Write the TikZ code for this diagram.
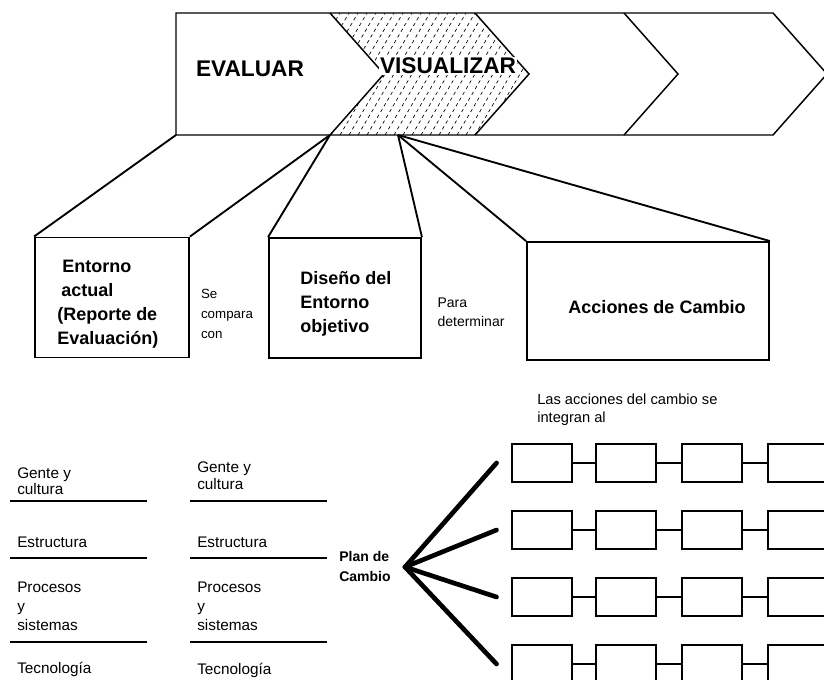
\documentclass[tikz,border=0pt]{standalone}
\usepackage{fontspec}
\setmainfont{Liberation Sans}
\usepackage{tikz}
\usetikzlibrary{arrows.meta, shapes}

\begin{document}
\begin{tikzpicture}[x=0.75pt, y=-0.75pt,
        caja/.style={draw, line width=1.4pt},
        texto/.style={align=left, inner sep=0pt, font=\fontsize{13.5pt}{18pt}\selectfont\bfseries},
        celda/.style={draw, line width=1.2pt, minimum width=45pt, minimum height=28.5pt, inner sep=0pt},
        pierna/.style={line width=1.4pt},
        rama/.style={line width=3.5pt, line cap=round},
        regla/.style={line width=1.3pt},
        nota/.style={align=left, inner sep=0pt}]
        \useasboundingbox (0,0) rectangle (824,680);

        % 定义区域
        \def\zonavis{(330,13) -- (475,13) -- (529,74) -- (475,135) -- (330,135) -- (384,74) -- cycle}

        % 阴影 VISUALIZAR
        \begin{scope}
            \clip \zonavis;
            \foreach \k in {0,...,34}
                \draw[line width=0.5pt, dash pattern=on 2.5pt off 2.5pt] (250+\k*9,135) -- ++(72,-122);
        \end{scope}

        % 箭头带
        \draw[line width=1.1pt] (176,13) -- (773,13) -- (827,74) -- (773,135) -- (176,135) -- cycle;
        \draw[line width=1.1pt] (330,13) -- (384,74) -- (330,135);
        \draw[line width=1.1pt] (475,13) -- (529,74) -- (475,135);
        \draw[line width=1.1pt] (624,13) -- (678,74) -- (624,135);

        \node[font=\fontsize{17pt}{20pt}\selectfont\bfseries] (evaluar) at (250,69) {EVALUAR};
        \node[font=\fontsize{17pt}{20pt}\selectfont\bfseries, fill=white, inner sep=1pt] (visualizar) at (448,66) {VISUALIZAR};

        % 方框
        \node[caja, minimum width=115.5pt, minimum height=90pt] (actual) at (112,297.5) {};
        \node[caja, minimum width=114pt, minimum height=90pt] (objetivo) at (345,298) {};
        \node[caja, minimum width=181.5pt, minimum height=88.5pt] (acciones) at (648,301) {};
        \node[texto, anchor=north west] (actualtxt) at (57,260)
            {\hspace*{3.75pt}Entorno\\\hspace*{3pt}actual\\(Reporte de\\Evaluación)};
        \node[texto, anchor=north west] (objetivotxt) at (300,271) {Diseño del\\Entorno\\objetivo};
        \node[texto] (accionestxt) at (657,307) {Acciones de Cambio};

        % 连线
        \coordinate (b0) at (176,135);
        \coordinate (b1) at (330,135);
        \coordinate (b2) at (398,135);
        \draw[pierna] (actual.north west) -- (b0);
        \draw[pierna] (actual.north east) -- (b1);
        \draw[pierna] (objetivo.north west) -- (b1);
        \draw[pierna] (objetivo.north east) -- (b2);
        \draw[pierna] (acciones.north west) -- (b2);
        \draw[pierna] (acciones.north east) -- (b2);

        % 标注
        \node[nota, font=\fontsize{10pt}{15pt}\selectfont] (compara) at (227,314) {Se\\compara\\con};
        \node[nota, font=\fontsize{10.5pt}{14pt}\selectfont] (determinar) at (471,312) {Para\\determinar};
        \node[nota, anchor=north west, font=\fontsize{11pt}{13pt}\selectfont] (integran) at (537,394)
            {Las acciones del cambio se\\integran al};

        % 左侧两列
        \node[nota, anchor=north west, font=\fontsize{11.5pt}{12pt}\selectfont] (gente1) at (17,468) {Gente y\\cultura};
        \node[nota, anchor=north west, font=\fontsize{11.5pt}{12pt}\selectfont] (estructura1) at (17,537) {Estructura};
        \node[nota, anchor=north west, font=\fontsize{11.5pt}{14pt}\selectfont] (procesos1) at (17,582) {Procesos\\y\\sistemas};
        \node[nota, anchor=north west, font=\fontsize{11.5pt}{14pt}\selectfont] (tecnologia1) at (17,662) {Tecnología};
        \node[nota, anchor=north west, font=\fontsize{11.5pt}{12.5pt}\selectfont] (gente2) at (197,462) {Gente y\\cultura};
        \node[nota, anchor=north west, font=\fontsize{11.5pt}{12pt}\selectfont] (estructura2) at (197,537) {Estructura};
        \node[nota, anchor=north west, font=\fontsize{11.5pt}{14pt}\selectfont] (procesos2) at (197,582) {Procesos\\y\\sistemas};
        \node[nota, anchor=north west, font=\fontsize{11.5pt}{14pt}\selectfont] (tecnologia2) at (197,663) {Tecnología};
        \foreach \y in {501,558,642} {
            \draw[regla] (10,\y) -- (147,\y);
            \draw[regla] (190,\y) -- (327,\y);
        }

        % 变革计划
        \node[nota, font=\fontsize{10.5pt}{15pt}\selectfont\bfseries] (plan) at (365,566) {Plan de\\Cambio};
        \coordinate (punta) at (405,567);
        \foreach \y [count=\i] in {463,530,597,664} {
            \foreach \x [count=\j] in {542,626,712,798}
                \node[celda] (c\i-\j) at (\x,\y) {};
            \foreach \j [evaluate=\j as \k using int(\j+1)] in {1,2,3}
                \draw[line width=1.1pt] (c\i-\j) -- (c\i-\k);
            \draw[rama] (punta) -- ([xshift=-11pt]c\i-1.west);
        }
    \end{tikzpicture}
\end{document}
